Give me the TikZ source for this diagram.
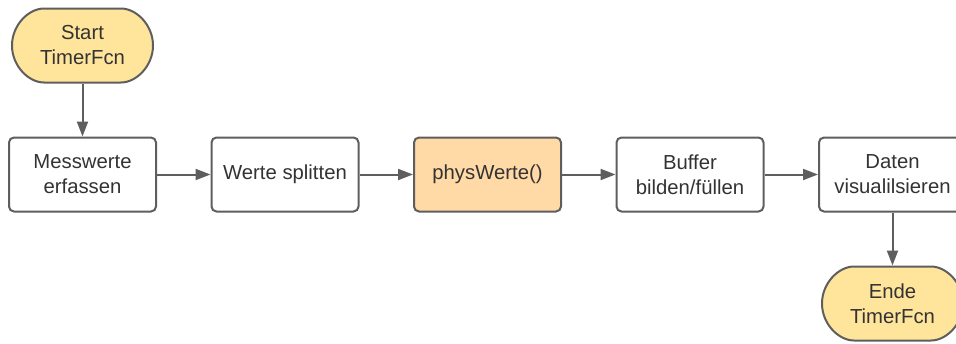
\documentclass[tikz,border=0pt]{standalone}
\usepackage{fontspec}
\setmainfont{Liberation Sans}
\definecolor{LineGray}{HTML}{5E5E5E}
\definecolor{TextGray}{HTML}{333333}
\definecolor{TermYellow}{HTML}{FFE59C}
\definecolor{FcnOrange}{HTML}{FFD9A6}
\usetikzlibrary{arrows.meta,positioning,shapes.misc}
\tikzset{
  tfbox/.style={draw=LineGray, fill=white, line width=2pt, rounded corners=5pt, align=center,
                font=\fontsize{20.3}{25}\selectfont, text=TextGray,
                minimum width=147pt, minimum height=74pt, inner sep=3pt},
  tfterm/.style={tfbox, rounded rectangle, fill=TermYellow},
  tffcn/.style={tfbox, fill=FcnOrange},
  tfarr/.style={-{Triangle[length=15pt, width=11pt]}, line width=2pt, LineGray}
}

\begin{document}
\begin{tikzpicture}[node distance=53pt and 53.5pt]
\clip (0pt,0pt) rectangle (956pt,-343pt);
% main row (left to right)
\node[tfbox] (n1) at (82.5pt,-174.5pt) {Messwerte\\erfassen};
\node[tfbox, right=of n1] (n2) {Werte splitten};
\node[tffcn, right=of n2] (n3) {physWerte()};
\node[tfbox, right=of n3] (n4) {Buffer\\bilden/füllen};
\node[tfbox, right=of n4] (n5) {Daten\\visualilsieren};
% start and end
\node[tfterm, above=of n1] (start) {Start\\TimerFcn};
\node[tfterm, below=of n5] (ende) {Ende\\TimerFcn};
% flow arrows
\draw[tfarr] (start)--(n1);
\draw[tfarr] (n1)--(n2);
\draw[tfarr] (n2)--(n3);
\draw[tfarr] (n3)--(n4);
\draw[tfarr] (n4)--(n5);
\draw[tfarr] (n5)--(ende);
\end{tikzpicture}
\end{document}
